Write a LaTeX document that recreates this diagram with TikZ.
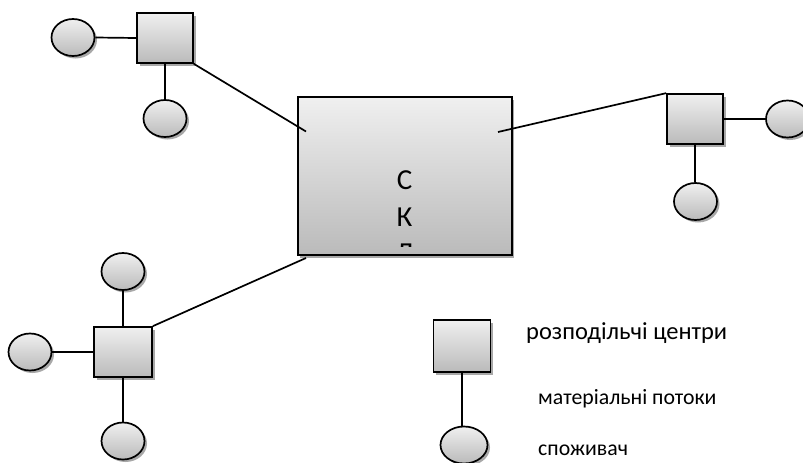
\documentclass[tikz,border=0pt]{standalone}
\usepackage{fontspec}
\setmainfont{Carlito}
\usetikzlibrary{shapes.geometric,shadows}

\tikzset{
  base/.style={draw=black, line width=1.7pt, top color=black!6, bottom color=black!27,
    drop shadow={shadow xshift=2.5pt, shadow yshift=-2.5pt, fill=black!45, opacity=0.75}},
  hub/.style={base, rectangle, minimum width=56pt, minimum height=50pt, inner sep=0pt},
  consumer/.style={base, ellipse, minimum width=43pt, minimum height=37pt, inner sep=0pt},
  store/.style={base, rectangle, line width=2pt, minimum width=214pt, minimum height=158pt, inner sep=0pt},
  link/.style={line width=1.7pt},
  legendtext/.style={anchor=base west, inner sep=0pt},
}

\begin{document}
\begin{tikzpicture}[x=1pt, y=-1pt]
  \clip (0,0) rectangle (803,463);
  \fill[white] (0,0) rectangle (803,463);

  % central warehouse
  \node[store] (main) at (404.5,176) {};
  \begin{scope}
    \clip (299,99) rectangle (510,246.5);
    \node[align=center, inner sep=0pt, font=\fontsize{29}{36.5}\selectfont] (label) at (404.5,217) {С\\К\\Л};
  \end{scope}

  % distribution centre, upper left
  \node[hub] (hubA) at (165,38) {};
  \node[consumer] (cA1) at (73,37.5) {};
  \node[consumer] (cA2) at (165,118.5) {};

  % distribution centre, right
  \node[hub] (hubB) at (695,119) {};
  \node[consumer] (cB1) at (787.5,119) {};
  \node[consumer] (cB2) at (695.5,201.5) {};

  % distribution centre, lower left
  \node[hub, minimum width=58pt] (hubC) at (123,352) {};
  \node[consumer] (cC1) at (123,271.5) {};
  \node[consumer] (cC2) at (30,352) {};
  \node[consumer] (cC3) at (123,441) {};

  % legend
  \node[hub, minimum width=57pt, minimum height=52pt] (lsq) at (462,346) {};
  \node[consumer, minimum width=47pt] (lel) at (464,445) {};

  % material flows
  \coordinate (pA) at (306,131.5);
  \coordinate (pB) at (498,132);
  \coordinate (pC) at (306,258);
  \draw[link] (hubA.south east) -- (pA);
  \draw[link] (hubB.north west) -- (pB);
  \draw[link] (hubC.north east) -- (pC);

  \draw[link] (cA1.east) -- (hubA.west);
  \draw[link] (hubA.south) -- (hubA.south |- cA2.north);
  \draw[link] (hubB.east) -- (cB1.west);
  \draw[link] (hubB.south) -- (hubB.south |- cB2.north);
  \draw[link] (hubC.north) -- (hubC.north |- cC1.south);
  \draw[link] (cC2.east) -- (hubC.west);
  \draw[link] (hubC.south) -- (hubC.south |- cC3.north);
  \draw[link] (lsq.south) -- (lsq.south |- lel.north);

  \node[legendtext, font=\fontsize{24.5}{28}\selectfont] (t1) at (526,339) {розподільчі центри};
  \node[legendtext, font=\fontsize{21.8}{25}\selectfont] (t2) at (538,404) {матеріальні потоки};
  \node[legendtext, font=\fontsize{21.8}{25}\selectfont] (t3) at (538,455) {споживач};
\end{tikzpicture}
\end{document}
